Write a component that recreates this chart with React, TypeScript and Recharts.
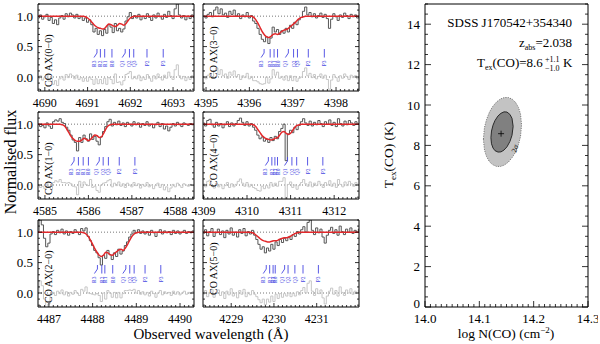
import type { ReactElement } from "react";
import { ComposedChart, Line, ReferenceLine, Scatter, XAxis, YAxis } from "recharts";

const SERIF = "'Liberation Serif', 'Times New Roman', serif";
const BLUE = "#4646e2";
const STEP = 0.05; // Å per spectral pixel

const TRANSITIONS = ["R3", "R2", "R1", "R0", "Q1", "Q2", "Q3", "P2", "P3"];
const HOOKED = ["R3", "Q1"];

// CO AX(0-0)
const ax00Start = 4689.85;
const ax00Domain: [number, number] = [4689.84, 4693.49];
const ax00Ticks = [4690, 4691, 4692, 4693];
const ax00Lines = [4691.22, 4691.3, 4691.4, 4691.57, 4691.88, 4691.98, 4692.08, 4692.39, 4692.77];
const ax00Flux = [
  0.97, 1.02, 0.95, 0.99, 1.03, 0.93, 0.98, 0.88, 0.94, 0.86,
  0.97, 1.01, 0.95, 1.04, 0.99, 1.05, 1.02, 0.97, 1.03, 0.96,
  0.99, 0.93, 0.97, 0.9, 0.94, 0.86, 0.74, 0.8, 0.7, 0.76,
  0.68, 0.78, 0.72, 0.86, 0.82, 0.73, 0.88, 0.76, 0.8, 0.74,
  0.79, 0.92, 0.99, 1.06, 0.96, 1.01, 0.97, 1.03, 0.94, 1.0,
  0.96, 1.04, 0.98, 0.93, 1.02, 0.97, 1.05, 0.99, 0.95, 1.03,
  0.98, 1.08, 1.01, 0.96, 1.12, 1.2, 1.02, 0.97, 1.01, 0.94,
  1.0, 0.96, 1.02, 0.98,
];
const ax00Model = [
  1, 1, 1, 1, 1, 1, 1, 1, 1, 1,
  1, 1, 1, 1, 1, 1, 1, 1, 1, 1,
  1, 1, 0.99, 0.97, 0.94, 0.9, 0.86, 0.83, 0.81, 0.8,
  0.79, 0.8, 0.84, 0.87, 0.86, 0.84, 0.83, 0.85, 0.88, 0.87,
  0.85, 0.88, 0.93, 0.97, 0.99, 1, 1, 1, 1, 1,
  1, 1, 1, 1, 1, 1, 1, 1, 1, 1,
  1, 1, 1, 1, 1, 1, 1, 1, 1, 1,
  1, 1, 1, 1,
];

// CO AX(3-0)
const ax30Start = 4394.95;
const ax30Domain: [number, number] = [4394.93, 4398.53];
const ax30Ticks = [4395, 4396, 4397, 4398];
const ax30Lines = [4396.34, 4396.48, 4396.57, 4396.65, 4396.9, 4397.02, 4397.11, 4397.36, 4397.73];
const ax30Flux = [
  1.0, 0.97, 1.03, 1.06, 0.99, 1.1, 1.15, 1.04, 1.12, 1.02,
  1.05, 0.98, 1.08, 1.03, 1.1, 1.0, 1.04, 0.96, 1.02, 0.99,
  1.06, 0.97, 1.01, 0.92, 0.88, 0.8, 0.7, 0.62, 0.58, 0.66,
  0.55, 0.64, 0.82, 0.74, 0.78, 0.7, 0.76, 0.72, 0.8, 0.74,
  0.85, 0.8, 0.9, 0.86, 0.94, 0.98, 1.08, 1.15, 1.02, 1.06,
  0.99, 1.04, 0.97, 1.01, 1.05, 0.98, 1.03, 0.96, 0.8, 0.95,
  1.04, 0.99, 0.93, 1.02, 0.98, 1.05, 1.01, 0.96, 1.03, 0.99,
  1.02, 0.97, 1.0,
];
const ax30Model = [
  1, 1, 1, 1, 1, 1, 1, 1, 1, 1,
  1, 1, 1, 1, 1, 1, 1, 1, 1, 1,
  1, 1, 1, 0.98, 0.94, 0.88, 0.81, 0.74, 0.69, 0.66,
  0.65, 0.67, 0.7, 0.71, 0.7, 0.72, 0.75, 0.77, 0.78, 0.8,
  0.83, 0.86, 0.89, 0.93, 0.96, 0.98, 0.99, 1, 1, 1,
  1, 1, 1, 1, 1, 1, 1, 1, 1, 1,
  1, 1, 1, 1, 1, 1, 1, 1, 1, 1,
  1, 1, 1,
];

// CO AX(1-0)
const ax10Start = 4584.85;
const ax10Domain: [number, number] = [4584.84, 4588.43];
const ax10Ticks = [4585, 4586, 4587, 4588];
const ax10Lines = [4585.67, 4585.77, 4585.88, 4586.0, 4586.25, 4586.34, 4586.46, 4586.71, 4587.07];
const ax10Flux = [
  1.0, 0.96, 0.98, 0.94, 1.02, 0.97, 0.93, 1.04, 1.07, 1.05,
  1.09, 1.03, 1.01, 0.95, 0.9, 0.82, 0.74, 0.7, 0.56, 0.78,
  0.7, 0.82, 0.76, 0.72, 0.84, 0.75, 0.8, 0.72, 0.66, 0.79,
  0.88, 0.96, 1.04, 1.08, 0.97, 1.03, 0.99, 1.05, 0.98, 1.02,
  0.96, 1.03, 1.0, 0.97, 1.04, 0.99, 1.02, 0.95, 1.01, 0.98,
  1.04, 0.97, 1.0, 0.94, 0.99, 1.03, 0.96, 1.01, 0.92, 0.97,
  0.89, 0.95, 1.01, 0.97, 1.03, 0.99, 0.96, 1.02, 1.0, 0.98,
  1.01, 0.99, 1.0,
];
const ax10Model = [
  1, 1, 1, 1, 1, 1, 1, 1, 1, 1,
  1, 0.99, 0.97, 0.92, 0.86, 0.8, 0.76, 0.73, 0.72, 0.72,
  0.74, 0.77, 0.75, 0.73, 0.75, 0.79, 0.82, 0.81, 0.78, 0.79,
  0.85, 0.92, 0.97, 0.99, 1, 1, 1, 1, 1, 1,
  1, 1, 1, 1, 1, 1, 1, 1, 1, 1,
  1, 1, 1, 1, 1, 1, 1, 1, 1, 1,
  1, 1, 1, 1, 1, 1, 1, 1, 1, 1,
  1, 1, 1,
];

// CO AX(4-0)
const ax40Start = 4309.0;
const ax40Domain: [number, number] = [4308.99, 4312.57];
const ax40Ticks = [4309, 4310, 4311, 4312];
const ax40Lines = [4310.49, 4310.57, 4310.64, 4310.7, 4310.93, 4311.03, 4311.14, 4311.39, 4311.74];
const ax40Flux = [
  1.02, 0.97, 1.06, 1.08, 0.99, 0.95, 1.03, 0.97, 1.01, 0.94,
  0.99, 1.04, 0.96, 1.02, 0.97, 1.01, 1.06, 1.1, 1.03, 0.98,
  1.04, 0.97, 1.01, 0.95, 0.9, 0.82, 0.76, 0.79, 0.72, 0.75,
  0.7, 0.78, 0.73, 0.8, 0.76, 0.88, 0.93, 1.0, 0.4, 0.84,
  0.9, 0.86, 0.95, 0.91, 0.98, 1.04, 1.09, 1.02, 0.98, 1.05,
  0.97, 1.03, 0.99, 1.06, 1.01, 0.96, 1.04, 1.0, 1.07, 0.98,
  1.03, 0.96, 1.09, 1.01, 0.97, 1.05, 0.99, 1.06, 1.02, 0.98,
  1.04, 1.0, 1.02,
];
const ax40Model = [
  1, 1, 1, 1, 1, 1, 1, 1, 1, 1,
  1, 1, 1, 1, 1, 1, 1, 1, 1, 1,
  1, 1, 1, 0.99, 0.96, 0.91, 0.86, 0.81, 0.78, 0.76,
  0.75, 0.74, 0.75, 0.77, 0.78, 0.82, 0.87, 0.88, 0.85, 0.83,
  0.85, 0.9, 0.95, 0.98, 0.99, 1, 1, 1, 1, 1,
  1, 1, 1, 1, 1, 1, 1, 1, 1, 1,
  1, 1, 1, 1, 1, 1, 1, 1, 1, 1,
  1, 1, 1,
];

// CO AX(2-0)
const ax20Start = 4486.75;
const ax20Domain: [number, number] = [4486.75, 4490.32];
const ax20Ticks = [4487, 4488, 4489, 4490];
const ax20Lines = [4488.11, 4488.21, 4488.28, 4488.46, 4488.76, 4488.85, 4488.95, 4489.2, 4489.56];
const ax20Flux = [
  1.0, 1.2, 1.12, 0.9, 0.76, 0.82, 0.97, 1.01, 0.96, 1.03,
  0.99, 1.05, 0.97, 1.02, 0.95, 1.01, 0.98, 1.04, 1.0, 0.96,
  1.06, 1.02, 1.07, 0.93, 0.86, 0.78, 0.7, 0.66, 0.58, 0.46,
  0.62, 0.57, 0.7, 0.63, 0.55, 0.66, 0.6, 0.72, 0.64, 0.69,
  0.78, 0.84, 0.92, 0.97, 1.03, 0.99, 1.04, 0.98, 1.02, 0.97,
  1.01, 0.95, 1.03, 0.99, 0.93, 1.0, 1.04, 0.97, 1.02, 0.99,
  1.01, 0.96, 1.03, 0.98, 1.02, 0.97, 1.0, 1.03, 0.98, 1.01,
  0.99, 1.02, 1.0,
];
const ax20Model = [
  1, 1, 1, 1, 1, 1, 1, 1, 1, 1,
  1, 1, 1, 1, 1, 1, 1, 1, 1, 1,
  1, 0.99, 0.97, 0.93, 0.87, 0.8, 0.73, 0.67, 0.62, 0.6,
  0.62, 0.67, 0.66, 0.63, 0.62, 0.65, 0.68, 0.71, 0.72, 0.7,
  0.74, 0.8, 0.87, 0.93, 0.97, 0.99, 1, 1, 1, 1,
  1, 1, 1, 1, 1, 1, 1, 1, 1, 1,
  1, 1, 1, 1, 1, 1, 1, 1, 1, 1,
  1, 1, 1,
];

// CO AX(5-0)
const ax50Start = 4228.35;
const ax50Domain: [number, number] = [4228.34, 4231.99];
const ax50Ticks = [4229, 4230, 4231];
const ax50Lines = [4229.82, 4229.9, 4229.98, 4230.03, 4230.25, 4230.33, 4230.49, 4230.68, 4231.04];
const ax50Flux = [
  0.98, 1.04, 0.94, 1.01, 1.06, 0.93, 0.99, 1.05, 0.96, 1.02,
  0.91, 1.03, 0.97, 1.07, 0.95, 1.0, 0.92, 1.04, 0.98, 1.06,
  0.94, 1.01, 0.97, 1.03, 0.95, 0.88, 0.8, 0.72, 0.76, 0.66,
  0.74, 0.69, 0.8, 0.72, 0.84, 0.78, 0.88, 0.83, 0.9, 0.86,
  0.92, 0.88, 0.96, 0.93, 1.01, 0.97, 1.04, 1.09, 1.0, 1.16,
  1.2, 1.03, 0.96, 1.07, 0.99, 1.05, 0.92, 0.82, 0.95, 1.03,
  1.08, 0.98, 1.04, 0.95, 1.1, 1.01, 0.96, 1.05, 1.0, 1.07,
  0.98, 1.03, 1.0, 1.05,
];
const ax50Model = [
  1, 1, 1, 1, 1, 1, 1, 1, 1, 1,
  1, 1, 1, 1, 1, 1, 1, 1, 1, 1,
  1, 1, 1, 0.99, 0.97, 0.94, 0.91, 0.88, 0.86, 0.85,
  0.84, 0.84, 0.85, 0.86, 0.86, 0.87, 0.89, 0.9, 0.91, 0.91,
  0.92, 0.94, 0.96, 0.98, 0.99, 1, 1, 1, 1, 1,
  1, 1, 1, 1, 1, 1, 1, 1, 1, 1,
  1, 1, 1, 1, 1, 1, 1, 1, 1, 1,
  1, 1, 1, 1,
];

// excitation-temperature fit: confidence contours and best fit
const outerContour = [
  { x: 14.1075, y: 8.31 }, { x: 14.1095, y: 8.89 }, { x: 14.1132, y: 9.28 }, { x: 14.1187, y: 9.65 },
  { x: 14.1242, y: 9.91 }, { x: 14.1316, y: 10.15 }, { x: 14.139, y: 10.3 }, { x: 14.1463, y: 10.37 },
  { x: 14.1537, y: 10.37 }, { x: 14.161, y: 10.28 }, { x: 14.1666, y: 10.13 }, { x: 14.1721, y: 9.88 },
  { x: 14.1758, y: 9.55 }, { x: 14.1777, y: 9.02 }, { x: 14.1758, y: 8.44 }, { x: 14.1721, y: 8.05 },
  { x: 14.1666, y: 7.67 }, { x: 14.161, y: 7.42 }, { x: 14.1537, y: 7.18 }, { x: 14.1463, y: 7.03 },
  { x: 14.139, y: 6.96 }, { x: 14.1316, y: 6.96 }, { x: 14.1242, y: 7.05 }, { x: 14.1187, y: 7.19 },
  { x: 14.1132, y: 7.45 }, { x: 14.1095, y: 7.77 },
];
const innerContour = [
  { x: 14.1213, y: 8.38 }, { x: 14.1224, y: 8.71 }, { x: 14.1252, y: 9.0 }, { x: 14.1288, y: 9.23 },
  { x: 14.1344, y: 9.46 }, { x: 14.1399, y: 9.59 }, { x: 14.1454, y: 9.66 }, { x: 14.1509, y: 9.65 },
  { x: 14.1564, y: 9.53 }, { x: 14.1601, y: 9.34 }, { x: 14.1622, y: 8.94 }, { x: 14.1601, y: 8.5 },
  { x: 14.1564, y: 8.2 }, { x: 14.1509, y: 7.93 }, { x: 14.1454, y: 7.77 }, { x: 14.1399, y: 7.68 },
  { x: 14.1344, y: 7.67 }, { x: 14.1288, y: 7.74 }, { x: 14.1252, y: 7.87 }, { x: 14.1224, y: 8.08 },
];
const bestFit = [{ x: 14.14, y: 8.58 }];
const logNTicks = [14.0, 14.1, 14.2, 14.3];
const tempTicks = [0, 2, 4, 6, 8, 10, 12, 14];

const PANELS = [
  { band: "0−0", left: 38, top: 4, start: ax00Start, flux: ax00Flux, model: ax00Model, domain: ax00Domain, majors: ax00Ticks, lines: ax00Lines, yLabels: true },
  { band: "3−0", left: 203, top: 4, start: ax30Start, flux: ax30Flux, model: ax30Model, domain: ax30Domain, majors: ax30Ticks, lines: ax30Lines, yLabels: false },
  { band: "1−0", left: 38, top: 112, start: ax10Start, flux: ax10Flux, model: ax10Model, domain: ax10Domain, majors: ax10Ticks, lines: ax10Lines, yLabels: true },
  { band: "4−0", left: 203, top: 112, start: ax40Start, flux: ax40Flux, model: ax40Model, domain: ax40Domain, majors: ax40Ticks, lines: ax40Lines, yLabels: false },
  { band: "2−0", left: 38, top: 220, start: ax20Start, flux: ax20Flux, model: ax20Model, domain: ax20Domain, majors: ax20Ticks, lines: ax20Lines, yLabels: true },
  { band: "5−0", left: 203, top: 220, start: ax50Start, flux: ax50Flux, model: ax50Model, domain: ax50Domain, majors: ax50Ticks, lines: ax50Lines, yLabels: false },
];

const ZERO = { top: 0, right: 0, bottom: 0, left: 0 };
const PW = 156, PH = 87, PL = 30, PT = 2, PR = 2, PB = 20;
const Y_DOMAIN: [number, number] = [-0.23, 1.2];
const Y_TICKS = Array.from({ length: 15 }, (_, k) => (k - 2) / 10);
const MARK_TOP = 0.46;

const tenths = (d: [number, number]) => {
  const out: number[] = [];
  for (let k = Math.ceil(d[0] * 10); k <= Math.floor(d[1] * 10); k++) out.push(k / 10);
  return out;
};
const isHalf = (v: number) => Math.abs(v * 2 - Math.round(v * 2)) < 1e-9;

type Side = "bottom" | "top" | "left" | "right";

function tickRenderer(
  side: Side,
  isMajor: (v: number) => boolean,
  majorLen: number,
  minorLen: number,
  label?: (v: number) => string,
  fontSize = 12,
  liftZero = 0,
) {
  return (props: any): ReactElement => {
    const { x, y, payload } = props;
    const v = Number(payload.value);
    const major = isMajor(v);
    const len = major ? majorLen : minorLen;
    const dx = side === "left" ? len : side === "right" ? -len : 0;
    const dy = side === "bottom" ? -len : side === "top" ? len : 0;
    return (
      <g>
        <line x1={x} y1={y} x2={x + dx} y2={y + dy} stroke="#000" strokeWidth={0.8} />
        {major && label && side === "bottom" ? (
          <text x={x} y={y + 15.5} textAnchor="middle" fontSize={fontSize} fontFamily={SERIF} fill="#000">
            {label(v)}
          </text>
        ) : null}
        {major && label && side === "left" ? (
          <text x={x - 5} y={y + 4.5 - (v === 0 ? liftZero : 0)} textAnchor="end" fontSize={fontSize} fontFamily={SERIF} fill="#000">
            {label(v)}
          </text>
        ) : null}
      </g>
    );
  };
}

const MarkerShape = (props: any) => {
  const { cx, cy, payload } = props;
  const hook = HOOKED.includes(payload.label) ? -3 : 0;
  const len = 8.5;
  const d = hook ? `M${cx},${cy}V${cy + 4}L${cx + hook},${cy + len}` : `M${cx},${cy}V${cy + len}`;
  return (
    <g>
      <path d={d} stroke={BLUE} strokeWidth={0.9} fill="none" />
      <text
        transform={`translate(${cx + hook + 2},${cy + len + 3}) rotate(-90)`}
        textAnchor="end"
        fontSize={5.5}
        fontFamily={SERIF}
        fill={BLUE}
      >
        {payload.label}
      </text>
    </g>
  );
};

type PanelProps = (typeof PANELS)[number];

function SpecPanel({ left, top, start, flux, model, domain, majors, lines, yLabels }: PanelProps) {
  const rows = flux.map((f, i) => ({ x: +(start + i * STEP).toFixed(2), f, m: model[i], r: f - model[i] }));
  const marks = lines.map((wl, i) => ({ x: wl, y: MARK_TOP, label: TRANSITIONS[i] }));
  const xTicks = tenths(domain);
  const isMajorX = (v: number) => majors.includes(v);
  const axisCommon = { tickSize: 0, tickMargin: 0, tickLine: false, interval: 0 as const, allowDataOverflow: true, axisLine: { stroke: "#000" } };
  return (
    <div style={{ position: "absolute", left: left - PL, top: top - PT }}>
      <ComposedChart width={PW + PL + PR} height={PH + PT + PB} data={rows} margin={ZERO}>
        <XAxis xAxisId="b" dataKey="x" type="number" domain={domain} ticks={xTicks} height={PB} {...axisCommon}
          tick={tickRenderer("bottom", isMajorX, 4, 2, (v) => String(v), 12)} />
        <XAxis xAxisId="t" orientation="top" type="number" domain={domain} ticks={xTicks} height={PT} {...axisCommon}
          tick={tickRenderer("top", isMajorX, 4, 2)} />
        <YAxis yAxisId="l" type="number" domain={Y_DOMAIN} ticks={Y_TICKS} width={PL} {...axisCommon}
          tick={tickRenderer("left", isHalf, 4, 2, yLabels ? (v) => v.toFixed(1) : undefined, 13)} />
        <YAxis yAxisId="r" orientation="right" type="number" domain={Y_DOMAIN} ticks={Y_TICKS} width={PR} {...axisCommon}
          tick={tickRenderer("right", isHalf, 4, 2)} />
        <ReferenceLine xAxisId="b" yAxisId="l" y={1} stroke="#777" strokeDasharray="1 2" />
        <ReferenceLine xAxisId="b" yAxisId="l" y={0} stroke="#777" strokeDasharray="1 2" />
        <Line xAxisId="b" yAxisId="l" dataKey="r" type="step" stroke="#c6c6c6" strokeWidth={1} dot={false} isAnimationActive={false} />
        <Line xAxisId="b" yAxisId="l" dataKey="f" type="step" stroke="#555" strokeWidth={1} dot={false} isAnimationActive={false} />
        <Line xAxisId="b" yAxisId="l" dataKey="m" type="monotone" stroke="#e2282b" strokeWidth={1.5} dot={false} isAnimationActive={false} />
        <Scatter xAxisId="b" yAxisId="l" data={marks} dataKey="y" shape={MarkerShape} isAnimationActive={false} />
      </ComposedChart>
    </div>
  );
}

const closedPath = (points: { x: number; y: number }[]) =>
  points.map((p, i) => `${i ? "L" : "M"}${p.x},${p.y}`).join("") + "Z";

const NoPoint = () => <g />;

const Cross = (props: any) => {
  const { cx, cy } = props;
  return <path d={`M${cx - 3},${cy}H${cx + 3}M${cx},${cy - 3}V${cy + 3}`} stroke="#000" strokeWidth={0.8} />;
};

function ExcitationPanel() {
  const RW = 163, RH = 303, RL = 40, RT = 2, RR = 10, RB = 22;
  const xTicks = Array.from({ length: 31 }, (_, k) => (1400 + k) / 100);
  const yTicks = Array.from({ length: 31 }, (_, k) => k / 2);
  const isMajorX = (v: number) => logNTicks.some((t) => Math.abs(t - v) < 1e-9);
  const isMajorY = (v: number) => tempTicks.includes(v);
  const axisCommon = { tickSize: 0, tickMargin: 0, tickLine: false, interval: 0 as const, allowDataOverflow: true, axisLine: { stroke: "#000" } };
  return (
    <div style={{ position: "absolute", left: 425 - RL, top: 4 - RT }}>
      <ComposedChart width={RW + RL + RR} height={RH + RT + RB} margin={ZERO}>
        <XAxis xAxisId="b" dataKey="x" type="number" domain={[14, 14.3]} ticks={xTicks} height={RB} {...axisCommon}
          tick={tickRenderer("bottom", isMajorX, 6, 3, (v) => v.toFixed(1), 13)} />
        <XAxis xAxisId="t" orientation="top" type="number" domain={[14, 14.3]} ticks={xTicks} height={RT} {...axisCommon}
          tick={tickRenderer("top", isMajorX, 6, 3)} />
        <YAxis yAxisId="l" type="number" domain={[0, 15]} ticks={yTicks} width={RL} {...axisCommon}
          tick={tickRenderer("left", isMajorY, 6, 3, (v) => String(v), 13, 4)} />
        <YAxis yAxisId="r" orientation="right" type="number" domain={[0, 15]} ticks={yTicks} width={RR} {...axisCommon}
          tick={tickRenderer("right", isMajorY, 6, 3)} />
        <Scatter xAxisId="b" yAxisId="l" data={outerContour} dataKey="y" shape={NoPoint} isAnimationActive={false}
          line={(p: any) => <path d={closedPath(p.points)} fill="#c3c3c3" stroke="#7a7a7a" strokeWidth={1} strokeDasharray="1.2 1.2" />} />
        <Scatter xAxisId="b" yAxisId="l" data={innerContour} dataKey="y" shape={NoPoint} isAnimationActive={false}
          line={(p: any) => <path d={closedPath(p.points)} fill="#808080" stroke="#2a2a2a" strokeWidth={1} />} />
        <Scatter xAxisId="b" yAxisId="l" data={bestFit} dataKey="y" shape={Cross} isAnimationActive={false} />
      </ComposedChart>
    </div>
  );
}

export default function App() {
  return (
    <div style={{ position: "absolute", left: 0, top: 0, width: 600, height: 344, background: "#fff", overflow: "hidden" }}>
      {PANELS.map((p) => (
        <SpecPanel key={p.band} {...p} />
      ))}
      <ExcitationPanel />
      <svg width={600} height={344} style={{ position: "absolute", left: 0, top: 0, pointerEvents: "none" }} fontFamily={SERIF} fill="#000">
        <text transform="translate(16,162) rotate(-90)" textAnchor="middle" fontSize={16}>Normalised flux</text>
        <text x={211} y={339} textAnchor="middle" fontSize={15}>Observed wavelength (Å)</text>
        {PANELS.map((p) => (
          <text key={p.band} transform={`translate(${p.left + 13.5},${p.top + (p.yLabels ? 83 : 75)}) rotate(-90)`} fontSize={10}>
            CO AX({p.band})
          </text>
        ))}
        <text transform="translate(393,155) rotate(-90)" textAnchor="middle" fontSize={13.5}>
          T<tspan fontSize={9} dy={3}>ex</tspan><tspan dy={-3}>(CO) (K)</tspan>
        </text>
        <text x={506} y={338} textAnchor="middle" fontSize={13.5}>
          log N(CO) (cm<tspan fontSize={9} dy={-5}>−2</tspan><tspan dy={5}>)</tspan>
        </text>
        <text x={572} y={27} textAnchor="end" fontSize={13}>SDSS J170542+354340</text>
        <text x={572} y={47} textAnchor="end" fontSize={13}>
          z<tspan fontSize={8} dy={3}>abs</tspan><tspan dy={-3}>=2.038</tspan>
        </text>
        <text x={477} y={67} fontSize={13}>
          T<tspan fontSize={8} dy={3}>ex</tspan><tspan dy={-3}>(CO)=8.6</tspan>
        </text>
        <text x={545} y={62} fontSize={8}>+1.1</text>
        <text x={545} y={71} fontSize={8}>−1.0</text>
        <text x={563} y={67} fontSize={13}>K</text>
        <text transform="translate(516,153) rotate(-72)" fontSize={7.5}>2σ</text>
      </svg>
    </div>
  );
}
